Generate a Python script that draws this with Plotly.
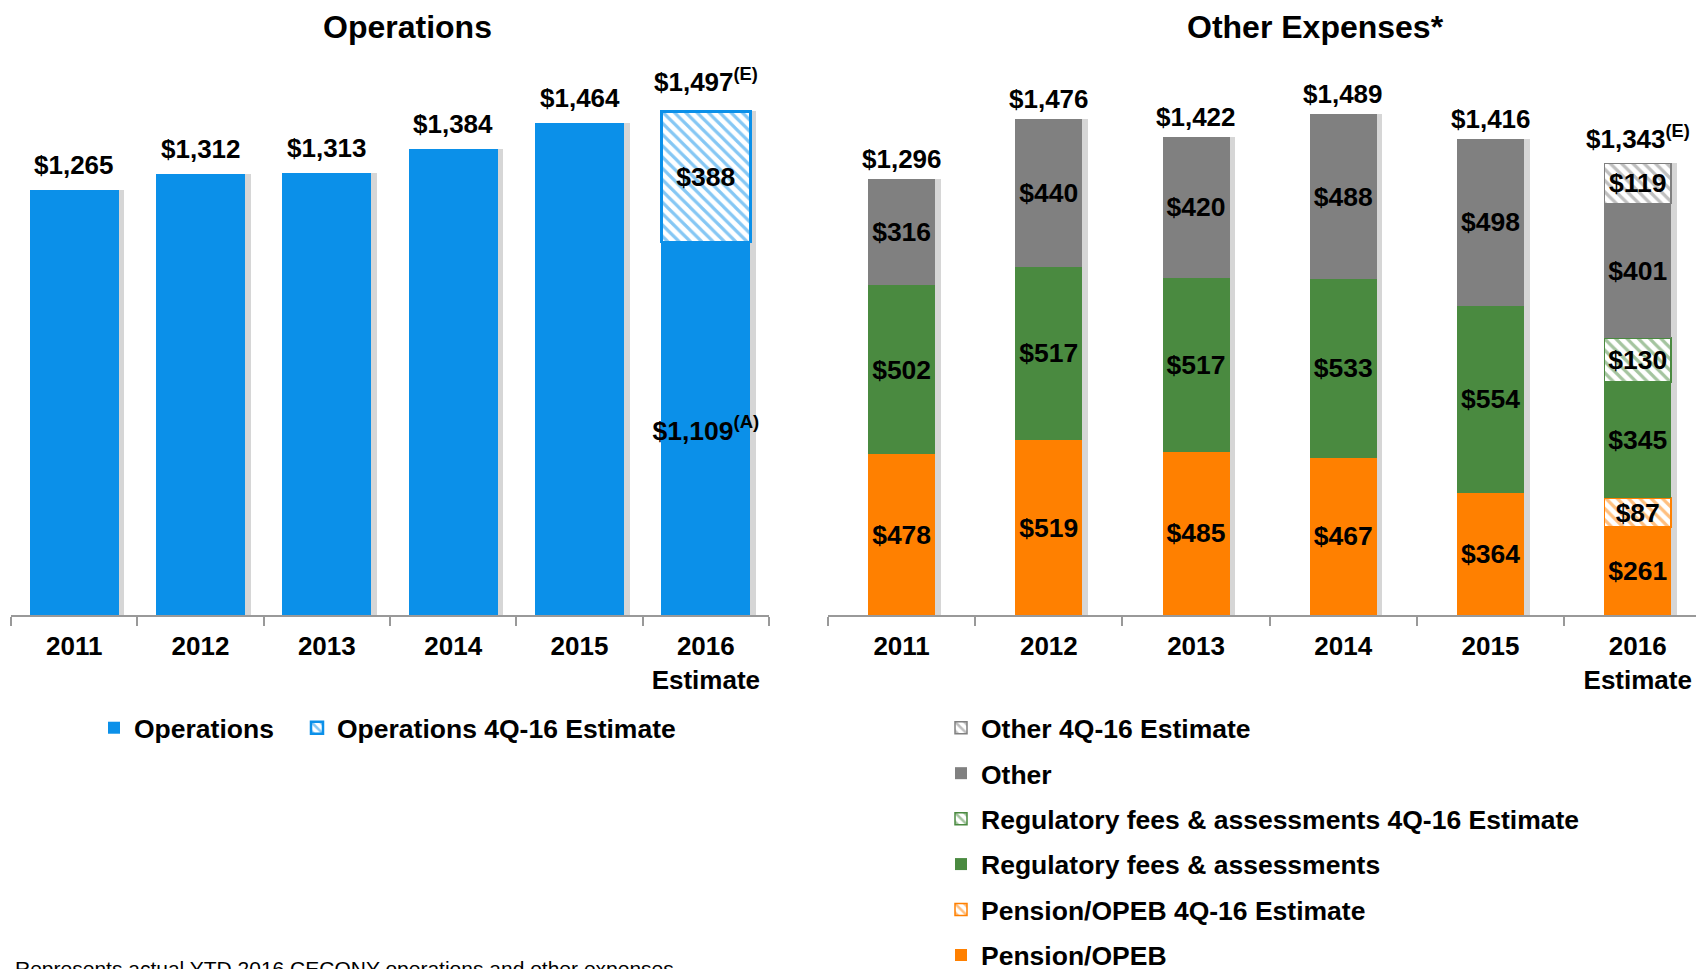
import plotly.graph_objects as go

years = ["2011", "2012", "2013", "2014", "2015", "2016<br>Estimate"]

# Operations ($ millions)
ops_actual = [1265, 1312, 1313, 1384, 1464, 1109]
ops_estimate = [None, None, None, None, None, 388]
ops_total = [1265, 1312, 1313, 1384, 1464, 1497]

# Other expenses ($ millions)
pension = [478, 519, 485, 467, 364, 261]
pension_est = [None, None, None, None, None, 87]
regulatory = [502, 517, 517, 533, 554, 345]
regulatory_est = [None, None, None, None, None, 130]
other = [316, 440, 420, 488, 498, 401]
other_est = [None, None, None, None, None, 119]
other_total = [1296, 1476, 1422, 1489, 1416, 1343]

actual_note = ["", "", "", "", "", "(A)"]
total_note = ["", "", "", "", "", "(E)"]

BLUE = "#0b90e9"
GRAY = "#808080"
GREEN = "#4a8a40"
ORANGE = "#ff8000"
FONT = "Liberation Sans, Arial, sans-serif"

# page body keeps its default 8px margin, so size the figure to fit the window
W, H = 1696, 961
LEFT_W, RIGHT_W = 0.705, 0.455
LEFT_RANGE, RIGHT_RANGE = [-0.5, 5.5], [-0.5, 5.45]


def px(x):  # window pixel -> paper x
    return (x - 8) / W


def py(y):  # window pixel -> paper y
    return 1 - (y - 8) / H


def money(v, note=""):
    if v is None:
        return ""
    s = f"${v:,}"
    if note:
        s += f"<sup>{note}</sup>"
    return s


fig = go.Figure()

# soft drop shadows behind the bars (drawn on the base axes)
for totals, xa, ya, w, shift in [(ops_total, "x", "y", LEFT_W, 0.045), (other_total, "x2", "y2", RIGHT_W, 0.038)]:
    fig.add_trace(go.Bar(x=years, y=totals, xaxis=xa, yaxis=ya, width=w, offset=-w / 2 + shift,
                         marker=dict(color="rgba(0,0,0,0.16)", line=dict(width=0)),
                         showlegend=False, hoverinfo="skip"))


def add_bar(name, vals, color, xa, ya, width, legend, rank, hatched=False, labels=None, lw=1.5):
    if labels is None:
        labels = [money(v) for v in vals]
    marker = dict(color=color, line=dict(width=0))
    if hatched:
        marker = dict(color="white",
                      pattern=dict(shape="\\", fgcolor=color, bgcolor="white", size=8, solidity=0.4),
                      line=dict(color=color, width=lw))
    fig.add_trace(go.Bar(
        x=years, y=vals, name=name, marker=marker, width=width,
        xaxis=xa, yaxis=ya, legend=legend, legendgroup=name, legendrank=rank,
        text=labels,
        textposition="inside", insidetextanchor="middle", textangle=0,
        constraintext="none", cliponaxis=False,
        textfont=dict(family=FONT, size=26.5, color="black", weight="bold"),
        hoverinfo="skip",
    ))


# left chart: only the actual YTD part of 2016 is labelled inside the bar
ops_labels = [money(v, n) if n else "" for v, n in zip(ops_actual, actual_note)]
add_bar("Operations", ops_actual, BLUE, "x3", "y3", LEFT_W, "legend", 1, labels=ops_labels)
add_bar("Operations 4Q-16 Estimate", ops_estimate, BLUE, "x3", "y3", LEFT_W, "legend3", 2, hatched=True, lw=2.5)

# right chart (stack bottom-up, legend top-down)
add_bar("Pension/OPEB", pension, ORANGE, "x4", "y4", RIGHT_W, "legend2", 6)
add_bar("Pension/OPEB 4Q-16 Estimate", pension_est, ORANGE, "x4", "y4", RIGHT_W, "legend2", 5, hatched=True)
add_bar("Regulatory fees & assessments", regulatory, GREEN, "x4", "y4", RIGHT_W, "legend2", 4)
add_bar("Regulatory fees & assessments 4Q-16 Estimate", regulatory_est, GREEN, "x4", "y4", RIGHT_W, "legend2", 3, hatched=True)
add_bar("Other", other, GRAY, "x4", "y4", RIGHT_W, "legend2", 2)
add_bar("Other 4Q-16 Estimate", other_est, GRAY, "x4", "y4", RIGHT_W, "legend2", 1, hatched=True)

total_font = dict(family=FONT, size=26, color="black", weight="bold")
annotations = []
for i, (tot, n) in enumerate(zip(ops_total, total_note)):
    annotations.append(dict(x=i, y=tot, xref="x", yref="y", text=money(tot, n),
                            showarrow=False, yanchor="bottom", yshift=12 if n else 8, font=total_font))
for i, (tot, n) in enumerate(zip(other_total, total_note)):
    annotations.append(dict(x=i, y=tot, xref="x2", yref="y2", text=money(tot, n),
                            showarrow=False, yanchor="bottom", yshift=7 if n else 3, font=total_font))

title_font = dict(family=FONT, size=32, color="black", weight="bold")
annotations += [
    dict(x=px(407.5), y=py(27), xref="paper", yref="paper", xanchor="center", yanchor="middle",
         text="Operations", showarrow=False, font=title_font),
    dict(x=px(1315), y=py(27), xref="paper", yref="paper", xanchor="center", yanchor="middle",
         text="Other Expenses*", showarrow=False, font=title_font),
    dict(x=px(13), y=py(955), xref="paper", yref="paper", xanchor="left", yanchor="top",
         text="Represents actual YTD 2016 CECONY operations and other expenses.", showarrow=False,
         font=dict(family=FONT, size=21, color="black")),
]

xaxis_style = dict(type="category", showline=True, linecolor="#999999", linewidth=1.5,
                   ticks="outside", tickson="boundaries", ticklen=9, tickcolor="#999999", tickwidth=1.5,
                   showgrid=False, zeroline=False, automargin=False, ticklabelstandoff=7,
                   tickfont=dict(family=FONT, size=26, color="black", weight="bold"))
hidden_x = dict(type="category", visible=False, showgrid=False, zeroline=False, automargin=False)
yaxis_style = dict(range=[0, 1650], visible=False, showgrid=False, zeroline=False, automargin=False)
y_dom = [py(615), py(60)]

legend_font = dict(family=FONT, size=26.5, color="black", weight="bold")
legend_top = py(704)

fig.update_layout(
    width=W, height=H,
    margin=dict(l=0, r=0, t=0, b=0, autoexpand=False),
    paper_bgcolor="white", plot_bgcolor="white",
    barmode="stack",
    xaxis=dict(domain=[px(11), px(769)], anchor="y", range=LEFT_RANGE, **xaxis_style),
    yaxis=dict(domain=y_dom, anchor="x", **yaxis_style),
    xaxis2=dict(domain=[px(828), 1.0], anchor="y2", range=RIGHT_RANGE, **xaxis_style),
    yaxis2=dict(domain=y_dom, anchor="x2", **yaxis_style),
    xaxis3=dict(overlaying="x", anchor="y3", range=LEFT_RANGE, **hidden_x),
    yaxis3=dict(overlaying="y", anchor="x3", **yaxis_style),
    xaxis4=dict(overlaying="x2", anchor="y4", range=RIGHT_RANGE, **hidden_x),
    yaxis4=dict(overlaying="y2", anchor="x4", **yaxis_style),
    legend=dict(orientation="v", x=px(94), y=legend_top, xanchor="left", yanchor="top",
                font=legend_font, bgcolor="rgba(0,0,0,0)"),
    legend3=dict(orientation="v", x=px(297), y=legend_top, xanchor="left", yanchor="top",
                 font=legend_font, bgcolor="rgba(0,0,0,0)"),
    legend2=dict(orientation="v", x=px(941), y=legend_top, xanchor="left", yanchor="top",
                 font=legend_font, bgcolor="rgba(0,0,0,0)", traceorder="grouped",
                 tracegroupgap=8),
    annotations=annotations,
    showlegend=True,
)

fig.write_html("out.html")
